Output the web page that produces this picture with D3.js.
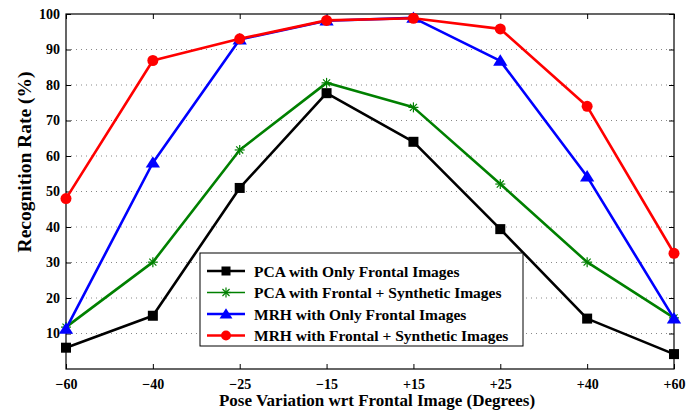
<!DOCTYPE html>
<html>
<head>
<meta charset="utf-8">
<style>
  body { margin: 0; background: #fff; }
  svg text { font-family: "Liberation Serif", "Times New Roman", serif; font-weight: bold; }
</style>
</head>
<body>
<svg width="700" height="410"></svg>
<script src="https://cdn.jsdelivr.net/npm/d3@7/dist/d3.min.js"></script>
<script>
const poses = ['\u221260', '\u221240', '\u221225', '\u221215', '+15', '+25', '+40', '+60'];
const yTicks = [10, 20, 30, 40, 50, 60, 70, 80, 90, 100];

const pcaFrontal = [6, 15, 51, 77.7, 64, 39.4, 14.2, 4.2];
const pcaSynthetic = [11.8, 30.1, 61.7, 80.6, 73.7, 52.1, 30.1, 14.4];
const mrhFrontal = [11.3, 58.1, 92.8, 98.1, 98.9, 86.8, 54.2, 14.2];
const mrhSynthetic = [48, 86.9, 93, 98.2, 98.8, 95.8, 74, 32.6];

const series = [
    {name: 'PCA with Only Frontal Images', values: pcaFrontal, color: '#000000', marker: 'square'},
    {name: 'PCA with Frontal + Synthetic Images', values: pcaSynthetic, color: '#008000', marker: 'star'},
    {name: 'MRH with Only Frontal Images', values: mrhFrontal, color: '#0000ff', marker: 'triangle'},
    {name: 'MRH with Frontal + Synthetic Images', values: mrhSynthetic, color: '#ff0000', marker: 'circle'}
];

const svg = d3.select('svg');
const plotL = 66, plotR = 674, plotT = 14, plotB = 369;

const x = d3.scalePoint().domain(poses).range([plotL, plotR]);
const y = d3.scaleLinear().domain([0, 100]).range([plotB, plotT]);

// dotted grid
svg.append('g')
    .selectAll('line')
    .data(yTicks.filter(d => d < 100))
    .enter().append('line')
    .attr('x1', plotL).attr('x2', plotR)
    .attr('y1', d => y(d)).attr('y2', d => y(d))
    .attr('stroke', '#888')
    .attr('stroke-width', 1)
    .attr('stroke-dasharray', '1,4');

// axes (ticks inward)
const axisLeft = d3.axisLeft(y).tickValues(yTicks).tickSize(-5).tickPadding(6);
const axisRight = d3.axisRight(y).tickValues(yTicks).tickSize(-5).tickFormat('');
const axisBottom = d3.axisBottom(x).tickSize(-5).tickPadding(10);
const axisTop = d3.axisTop(x).tickSize(-5).tickFormat('');

function styleAxis(g) {
    g.select('.domain').remove();
    g.selectAll('line').attr('stroke', '#000');
    g.selectAll('text').attr('font-size', 14).attr('fill', '#000')
        .style('font-family', '"Liberation Serif", serif').style('font-weight', 'bold');
}

svg.append('g').attr('transform', `translate(${plotL},0)`).call(axisLeft).call(styleAxis);
svg.append('g').attr('transform', `translate(${plotR},0)`).call(axisRight).call(styleAxis);
svg.append('g').attr('transform', `translate(0,${plotB})`).call(axisBottom).call(styleAxis);
svg.append('g').attr('transform', `translate(0,${plotT})`).call(axisTop).call(styleAxis);

svg.append('rect')
    .attr('x', plotL).attr('y', plotT)
    .attr('width', plotR - plotL).attr('height', plotB - plotT)
    .attr('fill', 'none').attr('stroke', '#000').attr('stroke-width', 1.2);

// markers
function drawMarker(g, type, color, cx, cy, small) {
    const k = small ? 0.9 : 1;
    if (type === 'square') {
        const s = 10 * k;
        g.append('rect').attr('x', cx - s / 2).attr('y', cy - s / 2)
            .attr('width', s).attr('height', s).attr('fill', color);
    } else if (type === 'circle') {
        g.append('circle').attr('cx', cx).attr('cy', cy).attr('r', 5.5 * k).attr('fill', color);
    } else if (type === 'triangle') {
        const s = 6.5 * k;
        g.append('path')
            .attr('d', `M${cx},${cy - s}L${cx + s * 1.1},${cy + s * 0.75}L${cx - s * 1.1},${cy + s * 0.75}Z`)
            .attr('fill', color);
    } else if (type === 'star') {
        const r = 5;
        for (let i = 0; i < 4; i++) {
            const a = i * Math.PI / 4;
            g.append('line')
                .attr('x1', cx - r * Math.cos(a)).attr('y1', cy - r * Math.sin(a))
                .attr('x2', cx + r * Math.cos(a)).attr('y2', cy + r * Math.sin(a))
                .attr('stroke', color).attr('stroke-width', 1.2);
        }
    }
}

const line = d3.line().x((d, i) => x(poses[i])).y(d => y(d));

series.forEach(s => {
    const g = svg.append('g');
    g.append('path')
        .attr('d', line(s.values))
        .attr('fill', 'none')
        .attr('stroke', s.color)
        .attr('stroke-width', 2.6)
        .attr('stroke-linejoin', 'round');
    s.values.forEach((v, i) => drawMarker(g, s.marker, s.color, x(poses[i]), y(v)));
});

// legend
const legend = svg.append('g').attr('transform', 'translate(200,253)');
legend.append('rect')
    .attr('width', 323).attr('height', 93)
    .attr('fill', '#fff').attr('stroke', '#000').attr('stroke-width', 1);

series.forEach((s, i) => {
    const ly = 18 + i * 21.5;
    legend.append('line')
        .attr('x1', 7).attr('x2', 45).attr('y1', ly).attr('y2', ly)
        .attr('stroke', s.color).attr('stroke-width', i === 1 ? 1.5 : 2.6);
    drawMarker(legend, s.marker, s.color, 26, ly, true);
    legend.append('text')
        .attr('x', 54).attr('y', ly + 5.5)
        .attr('font-size', 15.5)
        .text(s.name);
});

// axis titles
svg.append('text')
    .attr('x', 377).attr('y', 406)
    .attr('text-anchor', 'middle')
    .attr('font-size', 17)
    .text('Pose Variation wrt Frontal Image (Degrees)');

svg.append('text')
    .attr('transform', 'translate(31,162) rotate(-90)')
    .attr('text-anchor', 'middle')
    .attr('font-size', 19.5)
    .text('Recognition Rate (%)');
</script>
</body>
</html>
